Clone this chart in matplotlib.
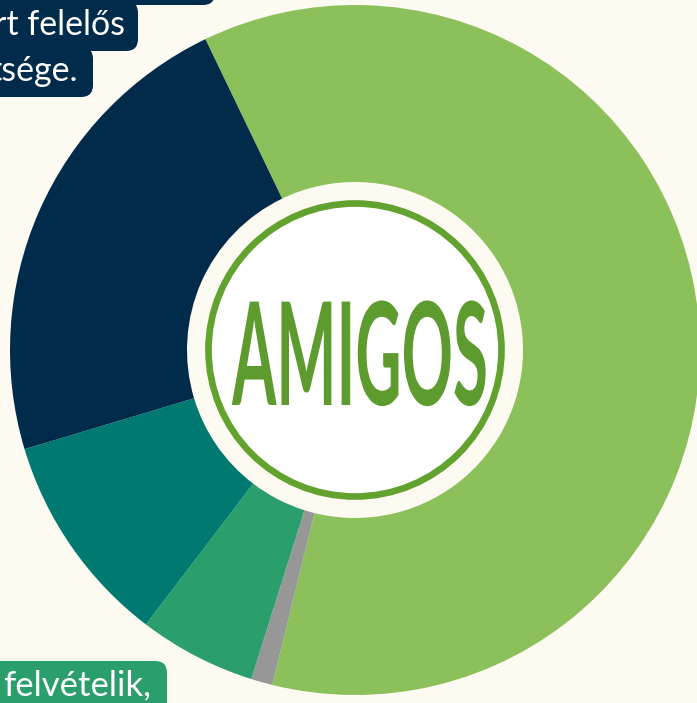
import matplotlib
matplotlib.use("Agg")
import matplotlib.pyplot as plt
from matplotlib.patches import FancyBboxPatch, Circle
from matplotlib.patheffects import AbstractPathEffect
from matplotlib.transforms import Affine2D

# ---- data ----
shares = [61, 1, 5.5, 10, 22.5]
slice_colors = ["#8CC05A", "#979797", "#2A9E6B", "#007A71", "#002B4A"]
logo_text = "AMIGOS"
top_lines = ["rt felelős", "tsége."]
bottom_line = "felvételik,"

BG = "#FDFAF2"
W, H = 697, 703

fig = plt.figure(figsize=(W / 100, H / 100), dpi=100, facecolor=BG)
ax = fig.add_axes([0, 0, 1, 1])
ax.set_facecolor(BG)

cx, cy = 355, 353
R_OUT, R_IN = 345, 168

ax.pie(shares, colors=slice_colors, startangle=115.7, counterclock=False,
       center=(cx, cy), radius=R_OUT,
       wedgeprops=dict(width=R_OUT - R_IN, linewidth=0, edgecolor="none"))

# logo
ax.add_patch(Circle((cx, cy), 149, facecolor="white", edgecolor="none", zorder=3))
ax.add_patch(Circle((cx, cy), 146.5, facecolor="none", edgecolor="#62A22F",
                    linewidth=4.8, zorder=4))


class Squeeze(AbstractPathEffect):
    def __init__(self, sx, anchor):
        super().__init__()
        self.sx = sx
        self.anchor = anchor

    def draw_path(self, renderer, gc, tpath, affine, rgbFace=None):
        ax_, x0 = self.anchor
        px, py = ax_.transData.transform((x0, 0))
        t = affine + Affine2D().translate(-px, 0).scale(self.sx, 1).translate(px, 0)
        renderer.draw_path(gc, tpath, t, rgbFace)


ax.text(360, 298, logo_text, ha="center", va="baseline", fontsize=103,
        family=["Lato", "DejaVu Sans"], fontweight="bold", color="#5E9B2E",
        zorder=5, path_effects=[Squeeze(0.445, (ax, 360))])

# label boxes (top-left, navy)
NAVY = "#002B4A"
boxes_top = [(-60, 698, 275, 80), (-60, 652, 198, 50), (-60, 606, 153, 50)]
for (x, y, w, h) in boxes_top:
    ax.add_patch(FancyBboxPatch((x, y), w, h, boxstyle="round,pad=0,rounding_size=12",
                                facecolor=NAVY, edgecolor="none", zorder=6))
ax.text(125, 668, top_lines[0], ha="right", va="baseline", fontsize=24.5,
        family=["Lato", "DejaVu Sans"], color="white", zorder=7)
ax.text(78, 622, top_lines[1], ha="right", va="baseline", fontsize=24.5,
        family=["Lato", "DejaVu Sans"], color="white", zorder=7)

# bottom-left green box
ax.add_patch(FancyBboxPatch((-60, -60), 227, 102, boxstyle="round,pad=0,rounding_size=12",
                            facecolor="#2A9E6B", edgecolor="none", zorder=6))
ax.text(3, 8, bottom_line, ha="left", va="baseline", fontsize=25,
        family=["Lato", "DejaVu Sans"], color="white", zorder=7)

ax.set_xlim(0, W)
ax.set_ylim(0, H)
ax.set_aspect("auto")
ax.axis("off")

fig.savefig("out.png", dpi=100, facecolor=BG)
